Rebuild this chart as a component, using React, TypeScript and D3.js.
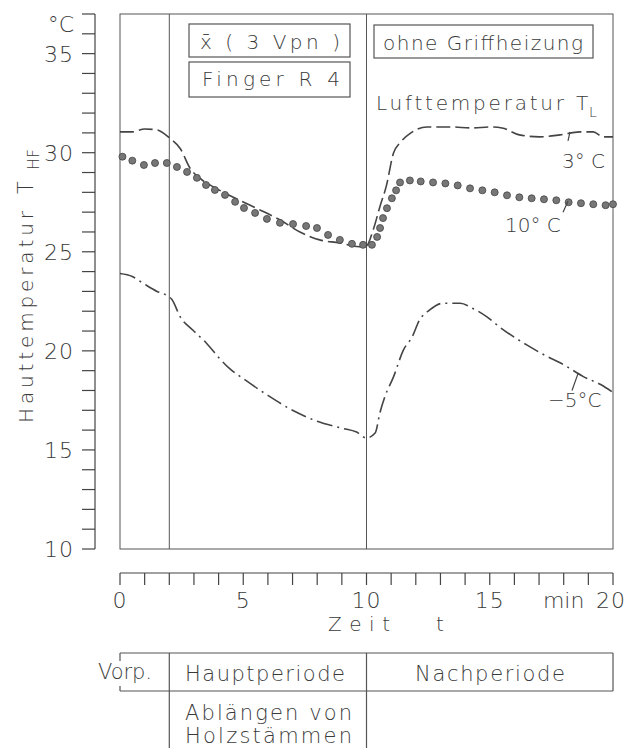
import React from 'react';
import * as d3 from 'd3';

// Lufttemperatur 3°C (gestrichelt)
const time3 = [0, 0.5, 1.0, 1.5, 2.0, 2.45, 2.85, 3.25, 3.9, 4.85, 5.7, 6.5, 7.3, 8.1, 8.9, 9.7, 10.0, 10.27, 10.55, 10.8, 11.1, 11.36, 11.8, 12.45, 13.4, 14.3, 15.0, 15.5, 16.2, 17.0, 17.85, 18.65, 19.2, 19.6, 20];
const temp3 = [31.05, 31.05, 31.2, 31.15, 30.75, 30.2, 29.2, 28.7, 28.2, 27.6, 27.1, 26.6, 26.0, 25.6, 25.45, 25.25, 25.3, 26.1, 27.3, 28.3, 30.0, 30.5, 31.0, 31.3, 31.3, 31.25, 31.3, 31.25, 30.9, 30.8, 30.9, 31.05, 31.05, 30.8, 30.8];

// Lufttemperatur 10°C (Punkte)
const time10 = [0.1, 0.5, 0.97, 1.42, 1.9, 2.31, 2.72, 3.12, 3.49, 3.85, 4.26, 4.67, 5.03, 5.48, 5.96, 6.49, 7.02, 7.55, 7.99, 8.44, 8.92, 9.41, 9.86, 10.22, 10.43, 10.55, 10.67, 10.83, 11.03, 11.2, 11.36, 11.76, 12.2, 12.7, 13.2, 13.7, 14.2, 14.7, 15.2, 15.7, 16.2, 16.7, 17.2, 17.7, 18.2, 18.7, 19.2, 19.7, 20.0];
const temp10 = [29.8, 29.6, 29.38, 29.48, 29.48, 29.28, 29.03, 28.73, 28.37, 28.12, 27.87, 27.52, 27.21, 26.96, 26.66, 26.46, 26.4, 26.3, 26.2, 25.85, 25.6, 25.4, 25.35, 25.35, 25.75, 26.2, 26.7, 27.2, 27.7, 28.1, 28.5, 28.6, 28.55, 28.5, 28.45, 28.35, 28.2, 28.1, 28.0, 27.85, 27.75, 27.7, 27.65, 27.6, 27.5, 27.45, 27.4, 27.35, 27.4];

// Lufttemperatur -5°C (Strich-Punkt)
const timeM5 = [0, 0.5, 0.95, 1.5, 1.9, 2.1, 2.45, 2.95, 3.5, 4.05, 4.45, 5, 6, 7, 8, 9, 9.6, 10, 10.35, 10.55, 10.75, 11.1, 11.5, 11.85, 12.15, 12.55, 13.1, 13.8, 14.3, 14.9, 15.4, 16.5, 17.2, 18, 18.8, 19.5, 20];
const tempM5 = [23.9, 23.75, 23.4, 23.0, 22.8, 22.6, 21.7, 21.05, 20.4, 19.6, 19.1, 18.6, 17.75, 17.0, 16.45, 16.1, 15.9, 15.6, 15.85, 16.9, 17.7, 18.7, 20.05, 20.7, 21.55, 22.05, 22.4, 22.4, 22.15, 21.7, 21.2, 20.3, 19.8, 19.3, 18.7, 18.3, 17.9];

const yLabels = [10, 15, 20, 25, 30, 35];
const xLabels = [0, 5, 10, 15, 20];
const periodBreaks = [2, 10];

const FONT = '"DejaVu Sans", sans-serif';
const INK = '#3a3a3a';

const App = () => {
  const x = d3.scaleLinear().domain([0, 20]).range([120, 613]);
  const y = d3.scaleLinear().domain([10, 37]).range([549, 14]);

  const line = d3.line<[number, number]>()
    .x(d => x(d[0]))
    .y(d => y(d[1]))
    .curve(d3.curveMonotoneX);

  const s3 = time3.map((t, i) => [t, temp3[i]] as [number, number]);
  const sM5 = timeM5.map((t, i) => [t, tempM5[i]] as [number, number]);

  const yTicks = d3.range(10, 38);
  const xTicks = d3.range(0, 21);
  const axisY = 573;

  return (
    <svg width={627} height={748} style={{position: 'absolute', left: 0, top: 0, background: '#fff'}}
         fontFamily={FONT} fontWeight={300} fill={INK}>
      {/* y axis */}
      <line x1={95} x2={95} y1={y(37)} y2={y(10)} stroke="#444" strokeWidth={1.2}/>
      {yTicks.map(v => (
        <line key={v} x1={82} x2={95} y1={y(v)} y2={y(v)} stroke="#444" strokeWidth={1.2}/>
      ))}
      {yLabels.map(v => (
        <text key={v} x={74} y={y(v) + 8} textAnchor="end" fontSize={22} letterSpacing={1}>{v}</text>
      ))}
      <text x={74} y={y(36) - 2} textAnchor="end" fontSize={22}>°C</text>

      {/* y title */}
      <text transform={`translate(33,423) rotate(-90)`} fontSize={20} textLength={212} lengthAdjust="spacing">Hauttemperatur</text>
      <text transform={`translate(33,194) rotate(-90)`} fontSize={21}>T</text>
      <text transform={`translate(39,170) rotate(-90)`} fontSize={16}>HF</text>

      {/* frame */}
      <rect x={x(0)} y={y(37)} width={x(20) - x(0)} height={y(10) - y(37)} fill="none" stroke="#555" strokeWidth={1}/>
      {periodBreaks.map(t => (
        <line key={t} x1={x(t)} x2={x(t)} y1={y(37)} y2={y(10)} stroke="#555" strokeWidth={1}/>
      ))}

      {/* legend boxes */}
      <rect x={189} y={24} width={161} height={33} fill="none" stroke="#555" strokeWidth={1.2}/>
      <text x={200} y={49} fontSize={20} textLength={140} lengthAdjust="spacing">x̄ ( 3 Vpn )</text>
      <rect x={189} y={62} width={161} height={35} fill="none" stroke="#555" strokeWidth={1.2}/>
      <text x={202} y={86} fontSize={20} textLength={138} lengthAdjust="spacing">Finger R 4</text>
      <rect x={374} y={25} width={219} height={33} fill="none" stroke="#555" strokeWidth={1.2}/>
      <text x={383} y={50} fontSize={20} textLength={200} lengthAdjust="spacing">ohne Griffheizung</text>
      <text x={376} y={110} fontSize={20} textLength={188} lengthAdjust="spacing">Lufttemperatur</text>
      <text x={576} y={110} fontSize={20}>T</text>
      <text x={589} y={117} fontSize={14}>L</text>

      {/* curves */}
      <path d={line(s3) || ''} fill="none" stroke="#444" strokeWidth={1.6} strokeDasharray="14 5"/>
      <path d={line(sM5) || ''} fill="none" stroke="#444" strokeWidth={1.6} strokeDasharray="16 5 2 5"/>
      {time10.map((t, i) => (
        <circle key={i} cx={x(t)} cy={y(temp10[i])} r={3.5} fill="#777" stroke="#444" strokeWidth={0.8}/>
      ))}

      {/* curve labels */}
      <line x1={570} x2={568} y1={y(31.05)} y2={y(30.6)} stroke="#444" strokeWidth={1.2}/>
      <text x={562} y={168} fontSize={20}>3° C</text>
      <line x1={568} x2={563} y1={y(27.55)} y2={y(27.0)} stroke="#444" strokeWidth={1.2}/>
      <text x={505} y={232} fontSize={20}>10° C</text>
      <line x1={578} x2={572} y1={y(18.85)} y2={y(18.0)} stroke="#444" strokeWidth={1.2}/>
      <text x={548} y={407} fontSize={20}>−5°C</text>

      {/* x axis */}
      <line x1={x(0)} x2={x(20)} y1={axisY} y2={axisY} stroke="#444" strokeWidth={1.2}/>
      {xTicks.map(t => (
        <line key={t} x1={x(t)} x2={x(t)} y1={axisY} y2={axisY + 12} stroke="#444" strokeWidth={1.2}/>
      ))}
      {xLabels.map(t => (
        <text key={t} x={x(t) - (t === 20 ? 2 : 0)} y={608} textAnchor="middle" fontSize={22} letterSpacing={1}>{t}</text>
      ))}
      <text x={x(18)} y={608} textAnchor="middle" fontSize={22}>min</text>
      <text x={328} y={631} fontSize={20} textLength={62} lengthAdjust="spacing">Zeit</text>
      <text x={436} y={631} fontSize={20}>t</text>

      {/* period table */}
      <line x1={x(0)} x2={x(20)} y1={653} y2={653} stroke="#555" strokeWidth={1.2}/>
      <line x1={x(0)} x2={x(20)} y1={691} y2={691} stroke="#555" strokeWidth={1.2}/>
      <line x1={x(0)} x2={x(0)} y1={653} y2={661} stroke="#555" strokeWidth={1.2}/>
      <line x1={x(0)} x2={x(0)} y1={686} y2={691} stroke="#555" strokeWidth={1.2}/>
      <line x1={x(20)} x2={x(20)} y1={653} y2={691} stroke="#555" strokeWidth={1.2}/>
      {periodBreaks.map(t => (
        <line key={t} x1={x(t)} x2={x(t)} y1={653} y2={748} stroke="#555" strokeWidth={1.2}/>
      ))}
      <text x={98} y={679} fontSize={21} textLength={54} lengthAdjust="spacing">Vorp.</text>
      <text x={185} y={681} fontSize={21} textLength={160} lengthAdjust="spacing">Hauptperiode</text>
      <text x={415} y={681} fontSize={21} textLength={150} lengthAdjust="spacing">Nachperiode</text>
      <text x={185} y={720} fontSize={21} textLength={167} lengthAdjust="spacing">Ablängen von</text>
      <text x={185} y={743} fontSize={21} textLength={167} lengthAdjust="spacing">Holzstämmen</text>
    </svg>
  );
};

export default App;
